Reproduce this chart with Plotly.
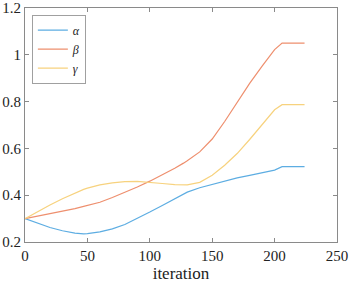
import plotly.graph_objects as go

iters = [0, 10, 20, 30, 40, 47, 50, 60, 70, 80, 90, 100, 110, 120, 127, 130, 140, 150, 160, 170, 180, 190, 200, 206, 224]
alpha = [0.300, 0.280, 0.262, 0.248, 0.238, 0.235, 0.236, 0.243, 0.256, 0.275, 0.300, 0.328, 0.356, 0.385, 0.404, 0.413, 0.432, 0.447, 0.462, 0.474, 0.485, 0.495, 0.507, 0.522, 0.522]
beta = [0.300, 0.310, 0.320, 0.331, 0.343, 0.352, 0.356, 0.370, 0.390, 0.412, 0.435, 0.460, 0.487, 0.515, 0.537, 0.547, 0.585, 0.640, 0.715, 0.795, 0.878, 0.952, 1.022, 1.050, 1.050]
gamma = [0.300, 0.330, 0.358, 0.385, 0.410, 0.425, 0.430, 0.444, 0.453, 0.458, 0.459, 0.456, 0.450, 0.445, 0.443, 0.444, 0.455, 0.485, 0.528, 0.578, 0.638, 0.703, 0.765, 0.787, 0.787]

names = ["<i>α</i>", "<i>β</i>", "<i>γ</i>"]
colors = ["#5DADE2", "#EE8F6E", "#F7D27E"]

SERIF = "Liberation Serif, Times New Roman, serif"

fig = go.Figure()
for name, ys, c in zip(names, [alpha, beta, gamma], colors):
    fig.add_trace(go.Scatter(x=iters, y=ys, mode="lines", name=name,
                             line=dict(color=c, width=1.2)))

axis_common = dict(showline=True, linecolor="#8a8a8a", linewidth=1, mirror="ticks",
                   ticks="inside", ticklen=4, tickcolor="#8a8a8a", showgrid=False,
                   zeroline=False, automargin=False, ticklabeloverflow="allow",
                   tickfont=dict(family=SERIF, size=15, color="#222"))

fig.update_layout(
    width=349, height=283,
    margin=dict(l=25, r=12, t=8, b=41),
    paper_bgcolor="white", plot_bgcolor="white",
    font=dict(family=SERIF, color="#222", size=15),
    xaxis=dict(range=[0, 250], tickvals=[0, 50, 100, 150, 200, 250],
               title=dict(text="iteration", font=dict(family=SERIF, size=17), standoff=2), **axis_common),
    yaxis=dict(range=[0.2, 1.2], tickvals=[0.2, 0.4, 0.6, 0.8, 1.0, 1.2],
               ticktext=["0.2", "0.4", "0.6", "0.8", "1", "1.2"], **axis_common),
    legend=dict(x=0.022, y=0.972, xanchor="left", yanchor="top",
                bgcolor="white", bordercolor="#a0a0a0", borderwidth=1,
                font=dict(family=SERIF, size=12, color="#222"),
                itemwidth=30, tracegroupgap=0),
    showlegend=True,
)

fig.write_html("out.html", config={"displayModeBar": False},
               post_script="document.body.style.margin='0';document.body.style.padding='0';")
